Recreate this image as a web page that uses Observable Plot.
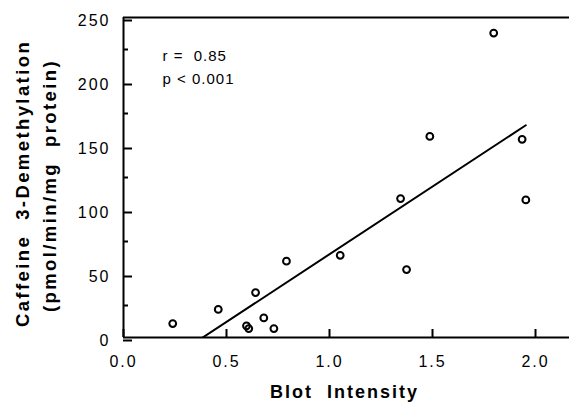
<!DOCTYPE html>
<html><head><meta charset="utf-8">
<script src="https://cdn.jsdelivr.net/npm/d3@7"></script>
<script src="https://cdn.jsdelivr.net/npm/@observablehq/plot@0.6"></script>
<style>
body{margin:0;background:#fff;}
svg{font-family:"Liberation Sans",Arial,Helvetica,sans-serif;}
svg text{white-space:pre;letter-spacing:2px;}
svg g[font-size="15"] text{letter-spacing:1px;}
svg g[font-size="18.5"] text{letter-spacing:2.4px;}
</style></head><body><div id="chart"></div>
<script>
const blotIntensity = [0.239, 0.460, 0.641, 0.597, 0.608, 0.681, 0.730, 0.791, 1.052, 1.345, 1.374, 1.487, 1.797, 1.935, 1.953];
const demethylation = [10.9, 21.9, 35.1, 9.1, 7.0, 15.3, 7.0, 59.6, 64.2, 108.5, 53.1, 157.1, 237.8, 154.8, 107.5];
const xTicks = [0, 0.5, 1.0, 1.5, 2.0];
const yTicks = [0, 50, 100, 150, 200, 250];
const yMinorTicks = [25, 75, 125, 175, 225];
const xTitle = "Blot  Intensity";
const yTitleLine1 = "Caffeine  3-Demethylation";
const yTitleLine2 = "(pmol/min/mg  protein)";
const statsLines = ["r =  0.85", "p < 0.001"];

const points = blotIntensity.map((x, i) => ({x, y: demethylation[i]}));

const chart = Plot.plot({
  width: 569,
  height: 409,
  marginLeft: 123,
  marginRight: 0,
  marginTop: 17,
  marginBottom: 72,
  style: {fontSize: "16px"},
  x: {domain: [0, 2.165]},
  y: {domain: [0, 250]},
  marks: [
    Plot.axisX(xTicks, {tickSize: -8, tickPadding: 26, tickFormat: d3.format(".1f"), fontSize: 16, label: null, strokeWidth: 2}),
    Plot.axisY(yTicks, {tickSize: -9, tickPadding: 22, fontSize: 16, dy: 3, label: null, strokeWidth: 2}),
    Plot.axisY(yMinorTicks, {tickSize: -5, tickFormat: () => "", label: null, strokeWidth: 2}),
    Plot.ruleX([0], {strokeWidth: 2}),
    Plot.ruleY([0, 250], {strokeWidth: 2}),
    Plot.linearRegressionY(points, {x: "x", y: "y", ci: 0, stroke: "black", strokeWidth: 2, clip: true}),
    Plot.dot(points, {x: "x", y: "y", r: 3.4, stroke: "black", strokeWidth: 2, fill: "none"}),
    Plot.text([statsLines.join("\n")], {frameAnchor: "top-left", dx: 39, dy: 27, lineAnchor: "top", lineHeight: 1.55, fontSize: 15, textAnchor: "start"}),
    Plot.text([xTitle], {frameAnchor: "bottom", dx: -2, dy: 60, fontSize: 18, fontWeight: "bold"}),
    Plot.text([yTitleLine1], {frameAnchor: "left", rotate: -90, textAnchor: "middle", dx: -100, dy: 6, fontSize: 18.5, fontWeight: "bold"}),
    Plot.text([yTitleLine2], {frameAnchor: "left", rotate: -90, textAnchor: "middle", dx: -73, dy: 8, fontSize: 18.5, fontWeight: "bold"})
  ]
});
document.getElementById("chart").appendChild(chart);
</script></body></html>
